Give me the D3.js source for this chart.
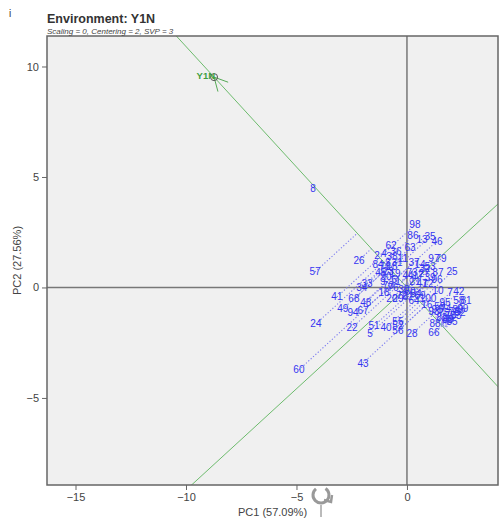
<!DOCTYPE html>
<html>
<head>
<meta charset="utf-8">
<script src="https://cdn.jsdelivr.net/npm/d3@7"></script>
<style>
  body { margin: 0; background: #fff; }
  svg { display: block; font-family: "Liberation Sans", Arial, sans-serif; }
</style>
</head>
<body>
<div id="chart"></div>
<script>
// genotype scores (PC1, PC2)
const genotypes = d3.range(1, 101).map(String);
const pc1 = [-0.41, -1.36, -0.86, -1.04, -1.67, -0.59, 1.95, -4.25, -1.09, 1.40,
  -0.18, 0.95, 0.68, 0.59, -0.68, 0.90, 0.50, -1.04, -0.54, -0.68,
  0.36, -2.49, -0.86, -4.12, 2.04, -2.17, 0.77, 0.23, -0.41, -0.14,
  -0.45, 0.81, -1.81, -2.04, 1.04, -0.50, 0.32, -0.68, 1.04, -0.95,
  -3.17, 2.35, -1.99, 0.05, -1.18, 1.36, 0.68, -1.86, -2.90, 0.14,
  -1.49, -0.41, 1.04, 0.41, -0.41, -0.41, -4.16, 2.35, 1.49, -4.89,
  0.05, -0.72, 0.14, 0.32, 1.81, 1.22, -1.99, -2.40, 0.59, -0.86,
  -1.00, -0.23, 0.23, 1.76, 1.67, -0.63, 1.95, 2.13, 1.54, 1.86,
  2.67, 1.58, 2.22, -1.31, 2.04, 0.27, 1.40, 1.27, 2.31, -0.95,
  1.36, 2.40, 1.22, -2.44, 1.72, 1.36, 1.22, 0.36, 2.53, 0.95];
const pc2 = [0.29, 1.43, 1.15, 1.52, -2.10, 0.38, -0.25, 4.50, 0.25, -0.16,
  1.33, 0.16, 2.19, 1.06, 0.97, -0.79, 0.52, -0.25, 0.61, -0.48,
  0.25, -1.83, 0.70, -1.65, 0.70, 1.24, 0.61, -2.10, -0.48, -0.11,
  1.15, 0.88, 0.16, 0.02, 2.29, 1.61, 1.15, 1.38, 0.43, -1.83,
  -0.43, -0.20, -3.42, 0.52, 0.66, 2.10, 0.16, -0.66, -0.97, -0.20,
  -1.74, -1.74, 0.97, -0.29, -1.52, -1.97, 0.70, -0.61, -0.84, -3.73,
  -0.43, 1.92, 1.79, -0.57, -1.47, -2.06, -1.06, -0.52, -0.38, 0.07,
  0.97, -0.38, 0.66, -0.93, -1.15, 0.02, -1.29, -1.11, 1.29, -1.47,
  -0.57, -1.38, -1.29, 1.02, -1.56, 2.33, 0.66, -1.65, -1.02, 0.48,
  -1.02, -1.15, -1.11, -1.15, -0.70, 0.34, 1.33, 2.83, -0.93, -0.48];

// environment vector
const envName = "Y1N";
const envPC1 = -8.73;
const envPC2 = 9.52;

const xTicks = [-15, -10, -5, 0];
const yTicks = [-5, 0, 5, 10];
const xLabel = "PC1 (57.09%)";
const yLabel = "PC2 (27.56%)";
const title = "Environment: Y1N";
const subtitle = "Scaling = 0, Centering = 2, SVP = 3";

const width = 501, height = 518;
const margin = { top: 36, right: 3, bottom: 33, left: 47 };
const innerW = width - margin.left - margin.right;
const innerH = height - margin.top - margin.bottom;

const svg = d3.select('#chart').append('svg')
  .attr('width', width).attr('height', height);

const x = d3.scaleLinear().domain([-16.29, 4.12]).range([margin.left, margin.left + innerW]);
const y = d3.scaleLinear().domain([-8.94, 11.38]).range([margin.top + innerH, margin.top]);

svg.append('defs').append('clipPath').attr('id', 'plotclip')
  .append('rect').attr('x', margin.left).attr('y', margin.top)
  .attr('width', innerW).attr('height', innerH);

svg.append('rect')
  .attr('x', margin.left).attr('y', margin.top)
  .attr('width', innerW).attr('height', innerH)
  .attr('fill', '#f0f0f0');

const plot = svg.append('g').attr('clip-path', 'url(#plotclip)');

// zero axes
plot.append('line').attr('x1', x(0)).attr('x2', x(0)).attr('y1', margin.top).attr('y2', margin.top + innerH)
  .attr('stroke', '#777').attr('stroke-width', 1.5);
plot.append('line').attr('x1', margin.left).attr('x2', margin.left + innerW).attr('y1', y(0)).attr('y2', y(0))
  .attr('stroke', '#777').attr('stroke-width', 1.5);

// environment axis and its perpendicular, both through origin
const envLen = Math.hypot(envPC1, envPC2);
const ux = envPC1 / envLen, uy = envPC2 / envLen;
const big = 40;
plot.append('line')
  .attr('x1', x(-big * ux)).attr('y1', y(-big * uy))
  .attr('x2', x(big * ux)).attr('y2', y(big * uy))
  .attr('stroke', '#6dbb6d').attr('stroke-width', 1);
plot.append('line')
  .attr('x1', x(-big * uy)).attr('y1', y(big * ux))
  .attr('x2', x(big * uy)).attr('y2', y(-big * ux))
  .attr('stroke', '#6dbb6d').attr('stroke-width', 1);

// projections of genotypes onto the environment axis
const points = genotypes.map((g, i) => {
  const d = pc1[i] * ux + pc2[i] * uy;
  return { name: g, x: pc1[i], y: pc2[i], px: d * ux, py: d * uy };
});

plot.selectAll('.proj')
  .data(points).enter()
  .append('line')
  .attr('class', 'proj')
  .attr('x1', d => x(d.x)).attr('y1', d => y(d.y))
  .attr('x2', d => x(d.px)).attr('y2', d => y(d.py))
  .attr('stroke', '#7a7af0')
  .attr('stroke-width', 1.1)
  .attr('stroke-dasharray', '1.2,2');

// environment marker with arrowhead
const ex = x(envPC1), ey = y(envPC2);
const ang = Math.atan2(y(0) - ey, x(0) - ex);
[-0.48, 0.48].forEach(a => {
  plot.append('line')
    .attr('x1', ex).attr('y1', ey)
    .attr('x2', ex + 15 * Math.cos(ang + a)).attr('y2', ey + 15 * Math.sin(ang + a))
    .attr('stroke', '#55aa55').attr('stroke-width', 1);
});
plot.append('circle').attr('cx', ex).attr('cy', ey).attr('r', 3.5)
  .attr('fill', 'none').attr('stroke', '#555').attr('stroke-width', 1);
plot.append('text')
  .attr('x', ex + 1).attr('y', ey + 2)
  .attr('text-anchor', 'end')
  .attr('font-size', 9.5).attr('font-weight', 'bold')
  .attr('fill', '#3f9f3f')
  .text(envName);

// genotype labels
plot.selectAll('.geno')
  .data(points).enter()
  .append('text')
  .attr('class', 'geno')
  .attr('x', d => x(d.x)).attr('y', d => y(d.y))
  .attr('dy', '0.35em')
  .attr('text-anchor', 'middle')
  .attr('font-size', 10)
  .attr('fill', '#3535f0')
  .text(d => d.name);

// border
svg.append('rect')
  .attr('x', margin.left).attr('y', margin.top)
  .attr('width', innerW).attr('height', innerH)
  .attr('fill', 'none').attr('stroke', '#666').attr('stroke-width', 1.5);

// axes
const xAxis = svg.append('g')
  .attr('transform', `translate(0,${margin.top + innerH})`)
  .call(d3.axisBottom(x).tickValues(xTicks).tickSize(5).tickPadding(3));
const yAxis = svg.append('g')
  .attr('transform', `translate(${margin.left},0)`)
  .call(d3.axisLeft(y).tickValues(yTicks).tickSize(5).tickPadding(3));
[xAxis, yAxis].forEach(ax => {
  ax.select('.domain').remove();
  ax.selectAll('line').attr('stroke', '#666');
  ax.selectAll('text').attr('font-size', 11).attr('fill', '#444')
    .style('font-family', '"Liberation Sans", Arial, sans-serif');
});

svg.append('text')
  .attr('x', margin.left + innerW / 2).attr('y', 516)
  .attr('text-anchor', 'middle').attr('font-size', 11).attr('fill', '#444')
  .text(xLabel);
svg.append('text')
  .attr('transform', `translate(21,${margin.top + innerH / 2}) rotate(-90)`)
  .attr('text-anchor', 'middle').attr('font-size', 11).attr('fill', '#444')
  .text(yLabel);

// titles
svg.append('text').attr('x', 9).attr('y', 17).attr('font-size', 10).attr('fill', '#333').text('i');
svg.append('text').attr('x', margin.left).attr('y', 23)
  .attr('font-size', 12.5).attr('font-weight', 'bold').attr('fill', '#333').text(title);
svg.append('text').attr('x', margin.left).attr('y', 34)
  .attr('font-size', 8).attr('font-style', 'italic').attr('fill', '#444').text(subtitle);

// rotate icon left over from the viewer
const ic = svg.append('g').attr('transform', 'translate(321,495)')
  .attr('fill', 'none').attr('stroke', '#999').attr('stroke-width', 3);
ic.append('path').attr('d', d3.arc()({ innerRadius: 8, outerRadius: 8, startAngle: 0.6, endAngle: 5.6 }));
ic.append('path').attr('d', 'M3,5 L10,7 L11,0').attr('stroke-width', 2.5);
ic.append('line').attr('x1', 0).attr('y1', 10).attr('x2', 0).attr('y2', 22).attr('stroke-width', 1).attr('stroke', '#777');
</script>
</body>
</html>
